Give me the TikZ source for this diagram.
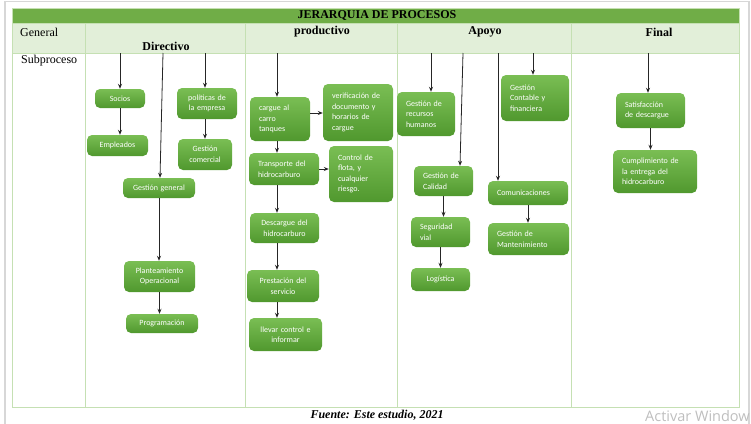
\documentclass[tikz,border=0pt]{standalone}
\usepackage{fontspec}
\setmainfont{Liberation Serif}
\newfontfamily\boxfont{Carlito}
\newfontfamily\wmfont{Open Sans}
\usetikzlibrary{arrows.meta,calc}
\definecolor{titlegreen}{RGB}{112,173,71}
\definecolor{headgreen}{RGB}{226,239,217}
\definecolor{gridgreen}{RGB}{197,224,179}
\definecolor{boxtop}{RGB}{122,190,84}
\definecolor{boxbot}{RGB}{80,152,46}
\definecolor{framegray}{RGB}{215,215,215}
\definecolor{wmgray}{RGB}{190,190,190}
\tikzset{
  proc/.style={rounded corners=5pt, top color=boxtop, bottom color=boxbot, draw=none,
    text=white, font=\boxfont\fontsize{8}{10.5}\selectfont, inner sep=0pt},
  arr/.style={-{Stealth[length=5pt,width=4pt]}, line width=0.8pt, black!85},
  grid/.style={draw=gridgreen, line width=1pt},
  headtxt/.style={font=\fontsize{12}{14}\selectfont, inner sep=0pt},
}
\newcommand{\pb}[7]{%
  \pgfmathsetmacro\bw{#4-#2}\pgfmathsetmacro\bh{#5-#3}\pgfmathsetmacro\tw{#4-#2-18}%
  \node[proc, minimum width=\bw pt, minimum height=\bh pt, text width=\tw pt, align=#6]
    (#1) at ({(#2+#4)/2},{(#3+#5)/2}) {#7};}
\begin{document}
\begin{tikzpicture}[x=1pt,y=-1pt]
\useasboundingbox (0,0) rectangle (751,423);
% screenshot frame
\draw[framegray, line width=1.5pt] (5,430) -- (5,1.5) -- (749,1.5) -- (749,430);
% table
\fill[titlegreen] (12,8) rectangle (739,23);
\fill[headgreen] (12,23) rectangle (739,53);
\draw[grid] (12,8) rectangle (739,407);
\draw[grid] (12,23) -- (739,23);
\draw[grid] (12,53) -- (739,53);
\foreach \xx in {85,245,397,571} \draw[grid] (\xx,23) -- (\xx,407);
% header texts
\node[headtxt, font=\bfseries\fontsize{12}{14}\selectfont] (title) at (377,15.5) {JERARQUIA DE PROCESOS};
\node[headtxt, anchor=west] (general) at (20,32) {General};
\node[headtxt, font=\bfseries\fontsize{12}{14}\selectfont] (directivo) at (166,46) {Directivo};
\node[headtxt, font=\bfseries\fontsize{12}{14}\selectfont] (productivo) at (322,32) {productivo};
\node[headtxt, font=\bfseries\fontsize{12}{14}\selectfont] (apoyo) at (485,32) {Apoyo};
\node[headtxt, font=\bfseries\fontsize{12}{14}\selectfont] (final) at (659,32) {Final};
\node[headtxt, anchor=west] (subproceso) at (21,61) {Subproceso};
% boxes
\pb{socios}{95}{89}{145}{108}{center}{Socios}
\pb{empl}{87}{135}{148}{156}{center}{Empleados}
\pb{polit}{177}{88}{237}{119}{center}{políticas de\\la empresa}
\pb{comer}{178}{139}{232}{170}{center}{Gestión\\comercial}
\pb{gg}{123}{178}{195}{198}{center}{Gestión general}
\pb{plan}{124}{261}{195}{292}{center}{Planteamiento\\Operacional}
\pb{prog}{126}{314}{198}{333}{center}{Programación}
\pb{carg}{250}{97}{310}{141}{left}{cargue al\\carro\\tanques}
\pb{verif}{323}{84}{393}{141}{left}{verificación de\\documento y\\horarios de\\cargue}
\pb{transp}{249}{153}{319}{185}{left}{Transporte del\\hidrocarburo}
\pb{ctrl}{329}{146}{393}{202}{left}{Control de\\flota, y\\cualquier\\riesgo.}
\pb{desc}{250}{213}{319}{243}{center}{Descargue del\\hidrocarburo}
\pb{prest}{247}{270}{319}{302}{center}{Prestación del\\servicio}
\pb{llev}{249}{318}{322}{351}{center}{llevar control e\\informar}
\pb{rrhh}{397}{92}{455}{136}{left}{Gestión de\\recursos\\humanos}
\pb{cont}{501}{75}{569}{121}{left}{Gestión\\Contable y\\financiera}
\pb{cal}{414}{166}{473}{196}{left}{Gestión de\\Calidad}
\pb{com}{488}{181}{568}{205}{left}{Comunicaciones}
\pb{seg}{411}{217}{470}{247}{left}{Seguridad\\vial}
\pb{log}{411}{268}{470}{291}{center}{Logística}
\pb{mant}{488}{223}{569}{255}{left}{Gestión de\\Mantenimiento}
\pb{satis}{616}{93}{685}{128}{left}{Satisfacción\\de descargue}
\pb{cumpl}{613}{150}{697}{193}{left}{Cumplimiento de\\la entrega del\\hidrocarburo}
% top anchors
\coordinate (tS) at (120,53);
\coordinate (tP) at (205,53);
\coordinate (tG) at (163,53);
\coordinate (bG) at (160,0);
\coordinate (tC) at (277,53);
\coordinate (tR) at (431,53);
\coordinate (tQ) at (463,53);
\coordinate (bQ) at (460,0);
\coordinate (tM) at (498,53);
\coordinate (tK) at (533,53);
\coordinate (tF) at (648,53);
% connectors
\draw[arr] (tS) -- (tS |- socios.north);
\draw[arr] (socios.south -| tS) -- (empl.north -| tS);
\draw[arr] (tP) -- (tP |- polit.north);
\draw[arr] (polit.south -| tP) -- (comer.north -| tP);
\draw[arr] (tG) -- (gg.north -| bG);
\draw[arr] (gg.south) -- (gg.south |- plan.north);
\draw[arr] (plan.south) -- (plan.south |- prog.north);
\draw[arr] (tC) -- (tC |- carg.north);
\draw[arr] ([yshift=6pt]carg.east) -- ([yshift=6pt]carg.east -| verif.west);
\draw[arr] (carg.south -| tC) -- (transp.north -| tC);
\draw[arr] (transp.east) -- (transp.east -| ctrl.west);
\draw[arr] (transp.south -| tC) -- (desc.north -| tC);
\draw[arr] (desc.south -| tC) -- (prest.north -| tC);
\draw[arr] (prest.south -| tC) -- (llev.north -| tC);
\draw[arr] (tR) -- (tR |- rrhh.north);
\draw[arr] (tQ) -- (cal.north -| bQ);
\draw[arr] (tM) -- (tM |- com.north);
\draw[arr] (tK) -- (tK |- cont.north);
\draw[arr] (cal.south) -- (cal.south |- seg.north);
\draw[arr] (seg.south) -- (seg.south |- log.north);
\draw[arr] (com.south) -- (com.south |- mant.north);
\draw[arr] (tF) -- (tF |- satis.north);
\draw[arr] (satis.south) -- (satis.south |- cumpl.north);
% caption and watermark
\node[inner sep=0pt, font=\bfseries\itshape\fontsize{12}{14}\selectfont] (caption) at (377,415) {Fuente: Este estudio, 2021};
\node[inner sep=0pt, anchor=base west, text=wmgray, font=\wmfont\fontsize{14.5}{16}\selectfont] (wm) at (645,421) {Activar Window};
\end{tikzpicture}
\end{document}
